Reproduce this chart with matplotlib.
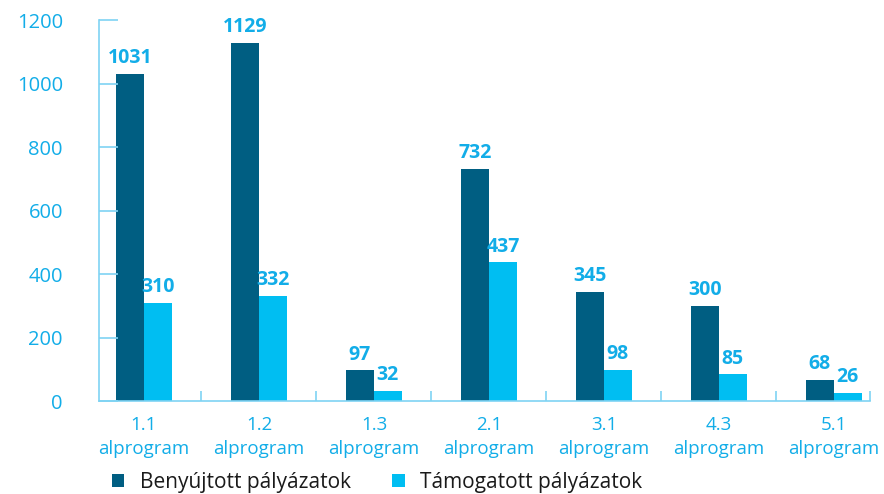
import matplotlib.pyplot as plt
import numpy as np

categories = ["1.1\nalprogram", "1.2\nalprogram", "1.3\nalprogram", "2.1\nalprogram",
              "3.1\nalprogram", "4.3\nalprogram", "5.1\nalprogram"]
submitted = [1031, 1129, 97, 732, 345, 300, 68]
supported = [310, 332, 32, 437, 98, 85, 26]
series_names = ["Benyújtott pályázatok", "Támogatott pályázatok"]
y_ticks = [0, 200, 400, 600, 800, 1000, 1200]

dark = "#005E82"
light = "#00BEF2"
text_blue = "#12ADE8"
axis_blue = "#7FD3F3"

plt.rcParams['font.family'] = ['Open Sans', 'DejaVu Sans']

fig = plt.figure(figsize=(8.84, 4.94), dpi=100)
ax = fig.add_axes([0.112, 0.188, 0.872, 0.7715])

x = np.arange(len(categories))
w = 0.243
b1 = ax.bar(x - w / 2, submitted, w, color=dark, label=series_names[0])
b2 = ax.bar(x + w / 2, supported, w, color=light, label=series_names[1])

for bars, vals in ((b1, submitted), (b2, supported)):
    for r, v in zip(bars, vals):
        ax.annotate(str(v), (r.get_x() + r.get_width() / 2, v),
                    xytext=(0, 4), textcoords="offset points",
                    ha="center", va="bottom", fontsize=14,
                    fontweight="bold", color=text_blue)

xmin, xmax = -0.391, 6.313
ax.set_xlim(xmin, xmax)
ax.set_ylim(0, 1200)
ax.set_yticks(y_ticks)
ax.set_xticks(x)
ax.set_xticklabels(categories)
ax.set_xticks(list(np.arange(0.5, 6.0, 1.0)) + [xmax], minor=True)

for s in ("top", "right"):
    ax.spines[s].set_visible(False)
for s in ("left", "bottom"):
    ax.spines[s].set_color(axis_blue)
    ax.spines[s].set_linewidth(1.2)

ax.tick_params(axis="y", direction="in", length=13.5, width=1.2, color=axis_blue,
               labelcolor=text_blue, labelsize=14.5, pad=26)
ax.tick_params(axis="x", which="major", length=0, labelcolor=text_blue,
               labelsize=13.5, pad=11)
ax.tick_params(axis="x", which="minor", direction="in", length=7, width=1.2,
               color=axis_blue)
for lbl in ax.get_xticklabels():
    lbl.set_linespacing(1.4)

fig.legend(handles=[b1, b2], loc="lower left", bbox_to_anchor=(0.105, -0.036),
           ncol=2, frameon=False, fontsize=15, handlelength=0.6, handleheight=0.6,
           columnspacing=2.0, handletextpad=0.75, labelcolor="#1a1a1a")

fig.savefig("out.png", dpi=100)
